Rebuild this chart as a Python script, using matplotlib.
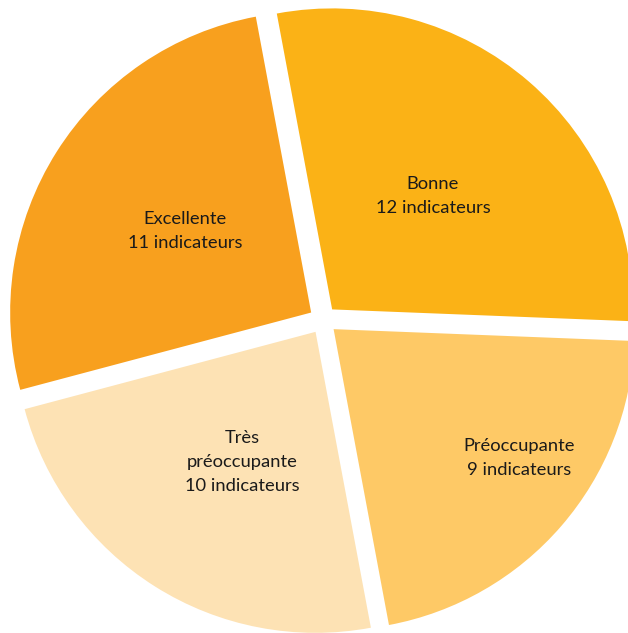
import matplotlib
matplotlib.use("Agg")
import matplotlib.pyplot as plt

categories = ["Bonne", "Préoccupante", "Très\npréoccupante", "Excellente"]
counts = [12, 9, 10, 11]
colors = ["#FBB216", "#FEC966", "#FDE2B4", "#F8A01E"]
label_pos = [(433, 196), (519, 458), (242, 462), (185, 231)]

W, H = 628, 633
fig = plt.figure(figsize=(W / 100, H / 100), dpi=100)
ax = fig.add_axes([0, 0, 1, 1])

cx, cy, r = 323, H - 320, 301
# explode is in data units (pixels here)
ax.pie(counts, colors=colors, startangle=100.6, counterclock=False,
       explode=[14] * len(counts), center=(cx, cy), radius=r,
       wedgeprops=dict(linewidth=0), frame=True)
ax.set_xlim(0, W)
ax.set_ylim(0, H)
ax.set_aspect("equal")
ax.axis("off")

for cat, n, (x, y) in zip(categories, counts, label_pos):
    ax.text(x, H - y, f"{cat}\n{n} indicateurs", ha="center", va="center",
            fontsize=13.2, color="#1a1a1a", family=["Lato", "DejaVu Sans"],
            linespacing=1.65)

fig.savefig("out.png", dpi=100)
